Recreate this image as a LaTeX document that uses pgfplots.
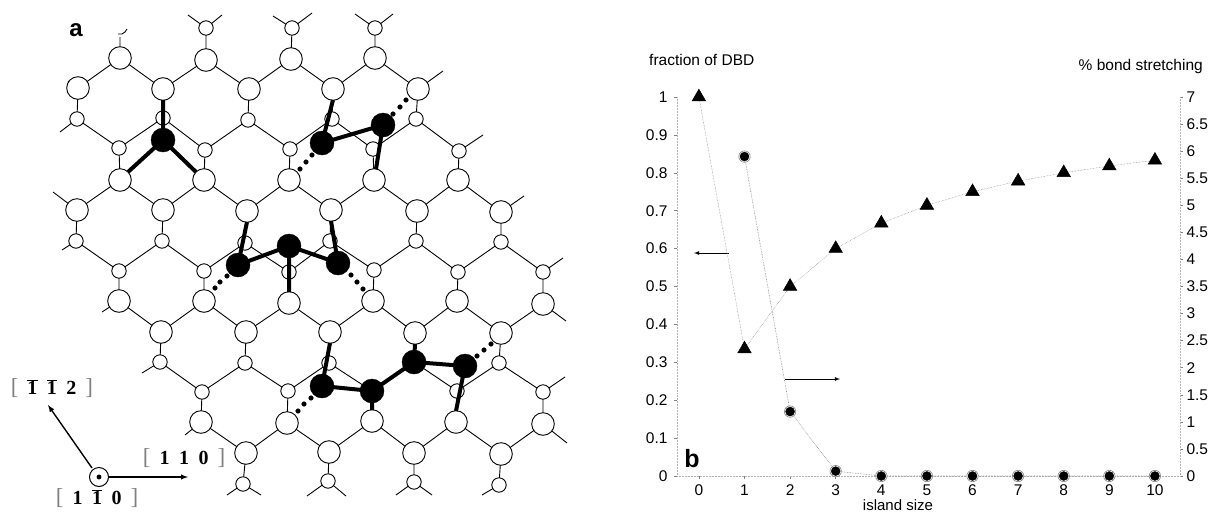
\documentclass[border=0pt]{standalone}
\usepackage{fontspec}
\setmainfont{Liberation Sans}
\newfontfamily\ser{Liberation Serif}
\usepackage{pgfplots}
\pgfplotsset{compat=1.18}
\newcommand\ob{\ensuremath{\overline{\mbox{1}}}}
\newcommand\lb{{\mdseries\fontsize{23}{23}\selectfont\color{gray}[}}
\newcommand\rb{{\mdseries\fontsize{23}{23}\selectfont\color{gray}]}}
\begin{document}
\begin{tikzpicture}[x=1pt,y=1pt]
\useasboundingbox (0,0) rectangle (1208,512);
\begin{axis}[at={(0pt,0pt)},anchor=south west,width=1208pt,height=512pt,scale only axis,
  xmin=0,xmax=1208,ymin=0,ymax=512,y dir=reverse,hide axis,clip=false,unbounded coords=jump]
% thin bonds: zigzags
\addplot[black,line width=0.9pt,mark=none] coordinates {
(188,15)(206,28)(222,15) (nan,nan)
(273,16)(292,28)(312,13) (nan,nan)
(355,14)(375,28)(393,14) (nan,nan)
(120,37)(120,58) (nan,nan) (118,34)(122,34)(125,32)(127,29) (nan,nan)
(206,28)(206,60) (nan,nan) (292,28)(291,59) (nan,nan) (375,28)(375,58) (nan,nan)
(68,81)(78,88)(120,58)(163,89)(206,60)(249,89)(291,59)(333,89)(375,58)(418,89)(443,71) (nan,nan)
(78,88)(77,119) (nan,nan) (163,89)(163,118) (nan,nan) (249,89)(248,120) (nan,nan) (333,89)(332,119) (nan,nan) (418,89)(416,119) (nan,nan)
(60,132)(77,119)(119,148)(163,118)(205,150)(248,120)(290,149)(332,119)(373,149)(416,119)(459,151)(483,135) (nan,nan)
(119,148)(120,180) (nan,nan) (205,150)(204,180) (nan,nan) (290,149)(289,180) (nan,nan) (373,149)(374,180) (nan,nan) (459,151)(458,180) (nan,nan)
(53,192)(77,210)(120,180)(163,210)(204,180)(247,211)(289,180)(331,210)(374,180)(417,211)(458,180)(501,212)(524,196) (nan,nan)
(77,210)(76,241) (nan,nan) (163,210)(162,241) (nan,nan) (247,211)(245,243) (nan,nan) (331,210)(330,241) (nan,nan) (417,211)(416,241) (nan,nan) (501,212)(501,242) (nan,nan)
(62,250)(76,241)(119,271)(162,241)(204,271)(245,243)(289,272)(330,241)(374,270)(416,241)(458,272)(501,242)(543,272)(563,258) (nan,nan)
(119,271)(119,301) (nan,nan) (204,271)(204,301) (nan,nan) (289,272)(289,303) (nan,nan) (374,270)(373,301) (nan,nan) (458,272)(457,301) (nan,nan) (543,272)(543,304) (nan,nan)
(102,312)(119,301)(161,332)(204,301)(246,332)(289,303)(330,332)(373,301)(415,333)(457,301)(501,333)(543,304)(566,321) (nan,nan)
(161,332)(160,362) (nan,nan) (246,332)(245,363) (nan,nan) (330,332)(329,363) (nan,nan) (415,333)(414,362) (nan,nan) (501,333)(499,363) (nan,nan)
(142,373)(160,362)(202,392)(245,363)(288,391)(329,363)(372,391)(414,362)(457,391)(499,363)(543,392)(565,377) (nan,nan)
(202,392)(201,422) (nan,nan) (288,391)(287,423) (nan,nan) (372,391)(372,421) (nan,nan) (457,391)(456,422) (nan,nan) (543,392)(543,424) (nan,nan)
(185,435)(201,422)(246,453)(287,423)(329,452)(372,421)(414,453)(456,422)(501,454)(543,424)(567,443) (nan,nan)
(246,453)(243,484) (nan,nan) (329,452)(328,481) (nan,nan) (414,453)(414,482) (nan,nan) (501,454)(499,485) (nan,nan)
(227,495)(243,484)(261,495) (nan,nan)
(307,496)(328,481)(346,496) (nan,nan)
(396,495)(414,482)(432,495) (nan,nan)
(482,495)(499,485)
};
% large open atoms
\addplot[only marks,mark=*,mark size=11.3pt,mark options={fill=white,draw=black,line width=0.9pt}] coordinates {
(120,58)(206,60)(291,59)(375,58)
(78,88)(163,89)(249,89)(333,89)(418,89)
(120,180)(204,180)(289,180)(374,180)(458,180)
(77,210)(163,210)(247,211)(331,210)(417,211)(501,212)
(119,301)(204,301)(289,303)(373,301)(457,301)(543,304)
(161,332)(246,332)(330,332)(415,333)(501,333)
(201,422)(287,423)(372,421)(456,422)(543,424)
(246,453)(329,452)(414,453)(501,454)
};
% small open atoms
\addplot[only marks,mark=*,mark size=7.2pt,mark options={fill=white,draw=black,line width=0.9pt}] coordinates {
(206,28)(292,28)(375,28)
(77,119)(163,118)(248,120)(332,119)(416,119)
(119,148)(205,150)(290,149)(373,149)(459,151)
(76,241)(162,241)(245,243)(330,241)(416,241)(501,242)
(119,271)(204,271)(289,272)(374,270)(458,272)(543,272)
(160,362)(245,363)(329,363)(499,363)
(202,392)(288,391)(457,391)(543,392)
(243,484)(328,481)(414,482)(499,485)
};
% crystal axes
\addplot[black,line width=1.4pt,-latex] coordinates {(92,468)(48,405)};
\addplot[black,line width=1.4pt,-latex] coordinates {(108,477)(188,477)};
\addplot[only marks,mark=*,mark size=9.5pt,mark options={fill=white,draw=black,line width=1pt}] coordinates {(99,477)};
\addplot[only marks,mark=*,mark size=2.2pt,mark options={fill=black,draw=black}] coordinates {(99,477)};
% chart arrows
\addplot[black,line width=0.8pt,-latex] coordinates {(729,253)(694,253)};
\addplot[black,line width=0.8pt,-latex] coordinates {(785,379)(840,379)};
\node[font=\fontsize{24}{24}\selectfont\bfseries] at (axis cs:76,30) {a};
\node[font=\fontsize{25}{25}\selectfont\bfseries] at (axis cs:692,459) {b};
\node[font=\fontsize{20}{20}\selectfont\ser\bfseries] at (axis cs:52,388) {\lb\hspace{9pt}\ob\hspace{9.5pt}\ob\hspace{9.5pt}2\hspace{9pt}\rb};
\node[font=\fontsize{20}{20}\selectfont\ser\bfseries] at (axis cs:184,458) {\lb\hspace{9pt}1\hspace{9.5pt}1\hspace{9.5pt}0\hspace{9pt}\rb};
\node[font=\fontsize{20}{20}\selectfont\ser\bfseries] at (axis cs:97,498) {\lb\hspace{9pt}1\hspace{9.5pt}\ob\hspace{9.5pt}0\hspace{9pt}\rb};
\node[font=\fontsize{15.5}{15.5}\selectfont,anchor=west,inner sep=0pt] at (axis cs:649,60) {fraction of DBD};
\node[font=\fontsize{15.5}{15.5}\selectfont,anchor=east,inner sep=0pt] at (axis cs:1203,66) {\% bond stretching};
\node[font=\fontsize{15}{15}\selectfont,inner sep=0pt] at (axis cs:898,505) {island size};
\end{axis}
% upper layer: bold bonds, black atoms, dots
\begin{axis}[at={(0pt,0pt)},anchor=south west,width=1208pt,height=512pt,scale only axis,
  xmin=0,xmax=1208,ymin=0,ymax=512,y dir=reverse,hide axis,clip=false,unbounded coords=jump]
\addplot[black,line width=4pt,mark=none] coordinates {
(163,100)(163,140) (nan,nan) (128,172)(163,140)(196,172) (nan,nan)
(333,100)(322,143)(383,125)(376,169) (nan,nan)
(247,222)(238,265)(289,246)(338,263)(331,221) (nan,nan)
(289,246)(289,292) (nan,nan)
(330,343)(322,386)(372,391)(414,362)(465,366)(456,411) (nan,nan)
(372,391)(372,410) (nan,nan) (414,362)(415,344)
};
\addplot[only marks,mark=*,mark size=12pt,mark options={fill=black,draw=black}] coordinates {
(163,140)(322,143)(383,125)(238,265)(289,246)(338,263)(322,386)(372,391)(414,362)(465,366)
};
\addplot[only marks,mark=*,mark size=2.3pt,mark options={fill=black,draw=black}] coordinates {
(393,114)(400,107)(406,100)(312,155)(306,162)(300,169)
(227,276)(220,282)(215,288)(351,275)(357,282)(363,289)
(311,398)(304,404)(298,411)(477,356)(484,350)(491,344)
};
\end{axis}
% left axis: fraction of DBD
\begin{axis}[at={(677pt,36pt)},anchor=south west,width=503pt,height=379pt,scale only axis,
  xmin=-0.48,xmax=10.55,ymin=0,ymax=1,clip=false,
  axis y line*=left,axis x line*=bottom,
  axis line style={-,gray!60,densely dotted,line width=0.5pt},
  tick style={gray,line width=0.5pt},tick align=outside,major tick length=3pt,
  xtick={0,1,...,10},ytick={0,0.1,...,1},
  yticklabels={0,0.1,0.2,0.3,0.4,0.5,0.6,0.7,0.8,0.9,1},
  /pgf/number format/assume math mode=true,
  tick label style={font=\fontsize{15.5}{15.5}\selectfont,black},
  xticklabel style={yshift=-2pt},yticklabel style={xshift=-3pt}]
\addplot[gray,line width=0.5pt,densely dotted,mark=triangle*,mark size=7.8pt,
  mark options={fill=black,draw=black,solid}] coordinates {
(0,1)(1,0.335)(2,0.5)(3,0.6)(4,0.667)(5,0.714)(6,0.75)(7,0.778)(8,0.8)(9,0.818)(10,0.833)};
\end{axis}
% right axis: % bond stretching
\begin{axis}[at={(677pt,36pt)},anchor=south west,width=503pt,height=379pt,scale only axis,
  xmin=-0.48,xmax=10.55,ymin=0,ymax=7,clip=false,
  axis y line*=right,axis x line=none,
  axis line style={-,gray!60,densely dotted,line width=0.5pt},
  tick style={gray,line width=0.5pt},tick align=outside,major tick length=3pt,
  ytick={0,0.5,...,7},
  yticklabels={0,0.5,1,1.5,2,2.5,3,3.5,4,4.5,5,5.5,6,6.5,7},
  /pgf/number format/assume math mode=true,
  tick label style={font=\fontsize{15.5}{15.5}\selectfont,black},
  yticklabel style={anchor=west,xshift=0pt}]
\addplot[gray,line width=0.6pt,densely dotted,mark=none] coordinates {
(1,5.9)(2,1.19)(3,0.09)(4,0)(5,0)(6,0)(7,0)(8,0)(9,0)(10,0)};
\addplot[only marks,mark=*,mark size=5.7pt,mark options={fill=white,draw=gray,line width=0.6pt}] coordinates {
(1,5.9)(2,1.19)(3,0.09)(4,0)(5,0)(6,0)(7,0)(8,0)(9,0)(10,0)};
\end{axis}
\begin{axis}[at={(677pt,36pt)},anchor=south west,width=503pt,height=379pt,scale only axis,
  xmin=-0.48,xmax=10.55,ymin=0,ymax=7,clip=false,hide axis]
\addplot[only marks,mark=*,mark size=4.5pt,mark options={fill=black,draw=black}] coordinates {
(1,5.9)(2,1.19)(3,0.09)(4,0)(5,0)(6,0)(7,0)(8,0)(9,0)(10,0)};
\end{axis}
\end{tikzpicture}
\end{document}
